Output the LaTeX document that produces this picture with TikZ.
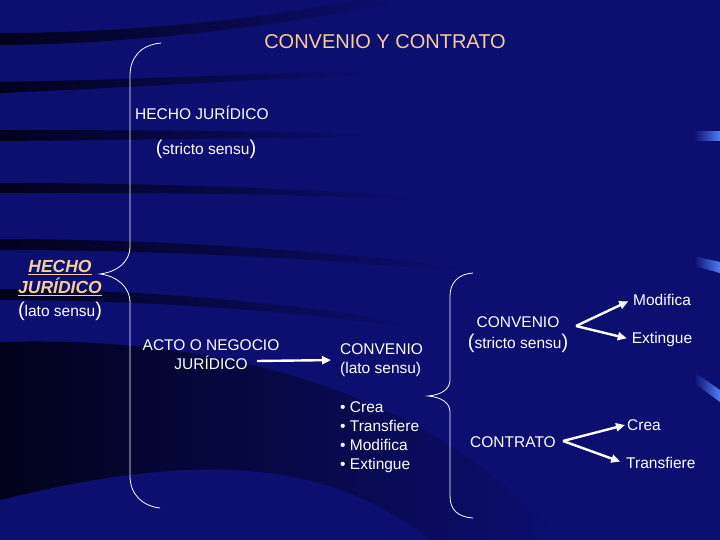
\documentclass[tikz,border=0pt]{standalone}
\usepackage{fontspec}
\setmainfont{Liberation Sans}
\usetikzlibrary{arrows.meta}
\definecolor{fondo}{RGB}{12,14,112}
\definecolor{durazno}{RGB}{247,206,152}
\definecolor{franja}{RGB}{2,2,28}
\definecolor{brillo}{RGB}{80,125,245}
\newcommand{\gpar}[1]{{\fontsize{20}{19}\selectfont #1}}

\begin{document}
\begin{tikzpicture}[x=1pt, y=-1pt, node distance=39pt,
  txt/.style={text=white, font=\fontsize{15.5}{19}\selectfont, inner sep=2pt},
  llave/.style={draw=white, line width=0.8pt},
  flecha/.style={draw=white, line width=2.4pt, -{Triangle[length=9pt,width=8pt]}}]

% fondo y franjas
\fill[fondo] (0,0) rectangle (720,540);
\useasboundingbox (0,0) rectangle (720,540);
\shade[left color=franja, right color=fondo] (0,33) .. controls (150,33) and (280,15) .. (360,0) -- (410,0) .. controls (300,22) and (150,44) .. (0,45) -- cycle;
\shade[left color=franja, right color=fondo] (0,82) .. controls (120,80) and (250,74) .. (380,70) -- (380,74) .. controls (250,80) and (120,88) .. (0,93) -- cycle;
\shade[left color=franja, right color=fondo] (0,130) .. controls (120,130) and (250,131) .. (380,134) -- (380,137) .. controls (250,138) and (120,140) .. (0,141) -- cycle;
\shade[left color=franja, right color=fondo] (0,183) .. controls (150,183) and (300,188) .. (430,198) -- (430,201) .. controls (300,194) and (150,192) .. (0,193) -- cycle;
\shade[left color=franja, right color=fondo] (0,239) .. controls (150,239) and (330,250) .. (480,270) -- (480,274) .. controls (330,258) and (150,250) .. (0,250) -- cycle;
\shade[left color=franja, right color=fondo] (0,289) .. controls (120,289) and (280,300) .. (420,325) -- (420,329) .. controls (280,308) and (120,300) .. (0,300) -- cycle;
\shade[left color=franja, right color=fondo] (0,342) .. controls (200,336) and (420,380) .. (560,540) -- (430,540) .. controls (330,460) and (200,450) .. (0,500) -- cycle;
\shade[left color=fondo, right color=brillo] (694,132) rectangle (720,141);
\shade[left color=fondo, right color=brillo] (694,256) -- (720,262) -- (720,273) -- (694,266) -- cycle;
\shade[left color=fondo, right color=brillo] (694,372) -- (720,390) -- (720,402) -- (694,383) -- cycle;

% textos
\node[txt, text=durazno, font=\fontsize{20}{24}\selectfont] (titulo) at (385,42) {CONVENIO Y CONTRATO};
\node[txt, anchor=west] (hecho) at (133,113) {HECHO JURÍDICO};
\node[txt] (stricto) at (206,149) {\gpar{(}stricto sensu\gpar{)}};
\node[txt, align=center, text=durazno, font=\fontsize{17.5}{21.5}\selectfont\bfseries\itshape] (hechols) at (60,278) {\underline{HECHO}\\\underline{JURÍDICO}};
\node[txt, below of=hechols, node distance=33pt] (lato) {\gpar{(}lato sensu\gpar{)}};
\node[txt, align=center] (acto) at (211,355) {ACTO O NEGOCIO\\JURÍDICO};
\coordinate (actofin) at (257,361);
\node[txt, align=left, anchor=west] (convlato) at (338,360) {CONVENIO\\(lato sensu)};
\node[txt, align=left, anchor=north west] (acciones) at (338,399) {• Crea\\• Transfiere\\• Modifica\\• Extingue};
\node[txt, align=center] (convstr) at (518,335) {CONVENIO\\[2pt]\gpar{(}stricto sensu\gpar{)}};
\node[txt] (contrato) at (513,442) {CONTRATO};
\node[txt, anchor=west] (modif) at (631,300) {Modifica};
\node[txt, below of=modif] (extin) {Extingue};
\node[txt, anchor=west] (crea) at (625,425) {Crea};
\node[txt, anchor=west] (transf) at (624,463) {Transfiere};
\coordinate (f1) at (576,326);
\coordinate (f2) at (563,441);

% llaves
\draw[llave] (161,43) .. controls (140,45) and (130,58) .. (130,76) -- (130,246)
  .. controls (130,263) and (116,272) .. (100,274) .. controls (116,276) and (130,286) .. (130,303)
  -- (130,476) .. controls (130,494) and (142,506) .. (160,508);
\draw[llave] (473,273) .. controls (458,274) and (450,283) .. (450,296) -- (450,380)
  .. controls (450,390) and (440,395) .. (428,396) .. controls (440,397) and (450,402) .. (450,412)
  -- (450,496) .. controls (450,510) and (458,517) .. (473,518);

% flechas
\path (actofin) edge[flecha, shorten >=7pt] (convlato.west)
      (f1) edge[flecha, shorten >=3pt] (modif.west)
      (f1) edge[flecha, shorten >=3pt] (extin.west)
      (f2) edge[flecha] (crea.west)
      (f2) edge[flecha, shorten >=4pt] (transf.west);
\end{tikzpicture}
\end{document}
